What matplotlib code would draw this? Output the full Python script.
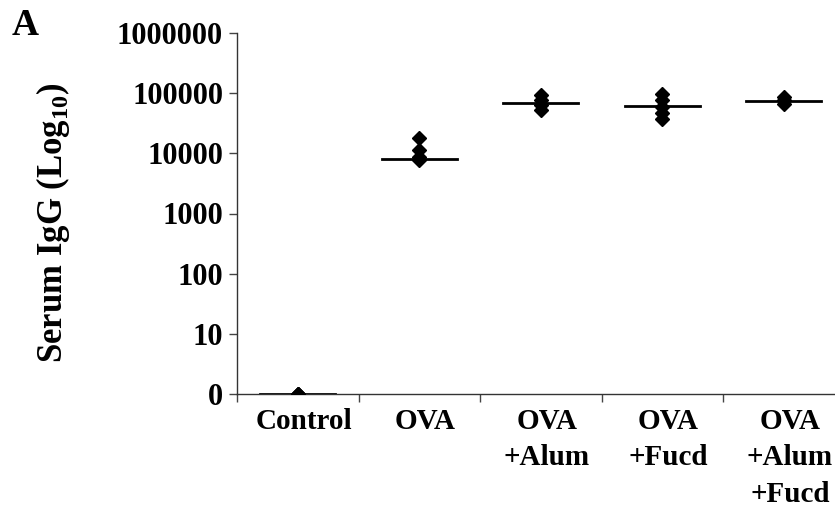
import numpy as np
import matplotlib.pyplot as plt
from matplotlib import rcParams

rcParams['font.family'] = ['Liberation Serif', 'DejaVu Serif']
rcParams['font.weight'] = 'bold'
rcParams['mathtext.fontset'] = 'custom'
rcParams['mathtext.rm'] = 'Liberation Serif:bold'
rcParams['mathtext.bf'] = 'Liberation Serif:bold'

groups = ['Control', 'OVA', 'OVA\n+Alum', 'OVA\n+Fucd', 'OVA\n+Alum\n+Fucd']
points = [
    [1, 1, 1],
    [17800, 11400, 8800, 7800],
    [92000, 78000, 64000, 52000],
    [98000, 77000, 60000, 47000, 37000],
    [88000, 76000, 67000],
]
means = [1, 7900, 68000, 61000, 75000]
yticks = [1, 10, 100, 1000, 10000, 100000, 1000000]
yticklabels = ['0', '10', '100', '1000', '10000', '100000', '1000000']

fig = plt.figure(figsize=(8.35, 5.09), dpi=100)
ax = fig.add_axes([237/835, 1-394/509, 607.5/835, 361/509])

for i, vals in enumerate(points):
    x = i + 0.5
    ax.plot([x - 0.31, x + 0.31], [means[i], means[i]], color='black', lw=2, zorder=2)
    ax.plot([x]*len(vals), vals, 'D', color='black', ms=7, zorder=3)

ax.set_yscale('log')
ax.set_ylim(1, 1e6)
ax.set_xlim(0, 5)
ax.set_yticks(yticks)
ax.set_yticklabels(yticklabels)
ax.yaxis.set_minor_locator(plt.NullLocator())
ax.set_xticks([0, 1, 2, 3, 4])
ax.set_xticklabels([])
ax.set_xticks(np.arange(5) + 0.55, minor=True)
ax.set_xticklabels(groups, minor=True, fontsize=21, linespacing=1.45, va='top')
ax.tick_params(axis='x', which='minor', length=0, pad=10)
ax.tick_params(axis='x', which='major', length=6, width=1, color='#444444')
ax.tick_params(axis='y', length=6, width=1, color='#444444', labelsize=22, pad=4)

for s in ['top', 'right']:
    ax.spines[s].set_visible(False)
for s in ['left', 'bottom']:
    ax.spines[s].set_color('#333333')
    ax.spines[s].set_linewidth(1)

ax.set_ylabel('Serum IgG (Log$_{10}$)', fontsize=25, fontweight='bold')
ax.yaxis.set_label_coords(-0.272, 0.476)
fig.text(12/835, 1-35/509, 'A', fontsize=27, fontweight='bold')

plt.savefig('out.png', dpi=100)
